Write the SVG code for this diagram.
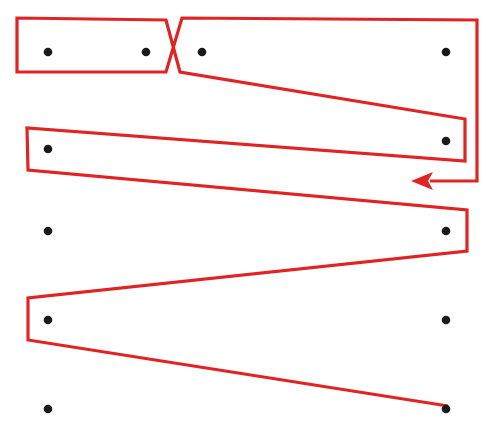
<svg xmlns="http://www.w3.org/2000/svg" width="500" height="433" viewBox="0 0 500 433">
<style>
.dot{fill:#1a1a1a}
.route{fill:none;stroke:#e02424;stroke-width:3.2;stroke-linejoin:miter}
</style>
<defs>
<marker id="arr" markerUnits="userSpaceOnUse" markerWidth="24" markerHeight="20" refX="3" refY="9" orient="auto">
<path d="M0,0 L22,9 L0,18 L5,9 Z" fill="#e02424"/>
</marker>
</defs>
<rect width="500" height="433" fill="#ffffff"/>
<g id="connectors">
<path class="route" marker-end="url(#arr)" d="M448,406 L28,340 L28,298 L467,251 L467,210 L28,170 L27,128 L465,161 L465,119 L180,72 L166,20 L17,18 L17,72 L166,72 L182,18 L477,20 L477,181 L430,181"/>
</g>
<g id="n1"><circle class="dot" cx="48" cy="52" r="4.3"/></g>
<g id="n2"><circle class="dot" cx="146" cy="52" r="4.3"/></g>
<g id="n3"><circle class="dot" cx="202" cy="52" r="4.3"/></g>
<g id="n4"><circle class="dot" cx="446" cy="52" r="4.3"/></g>
<g id="n5"><circle class="dot" cx="48" cy="149" r="4.3"/></g>
<g id="n6"><circle class="dot" cx="446" cy="141" r="4.3"/></g>
<g id="n7"><circle class="dot" cx="48" cy="231" r="4.3"/></g>
<g id="n8"><circle class="dot" cx="446" cy="231" r="4.3"/></g>
<g id="n9"><circle class="dot" cx="48" cy="320" r="4.3"/></g>
<g id="n10"><circle class="dot" cx="446" cy="320" r="4.3"/></g>
<g id="n11"><circle class="dot" cx="48" cy="409" r="4.3"/></g>
<g id="n12"><circle class="dot" cx="446" cy="409" r="4.3"/></g>
</svg>
